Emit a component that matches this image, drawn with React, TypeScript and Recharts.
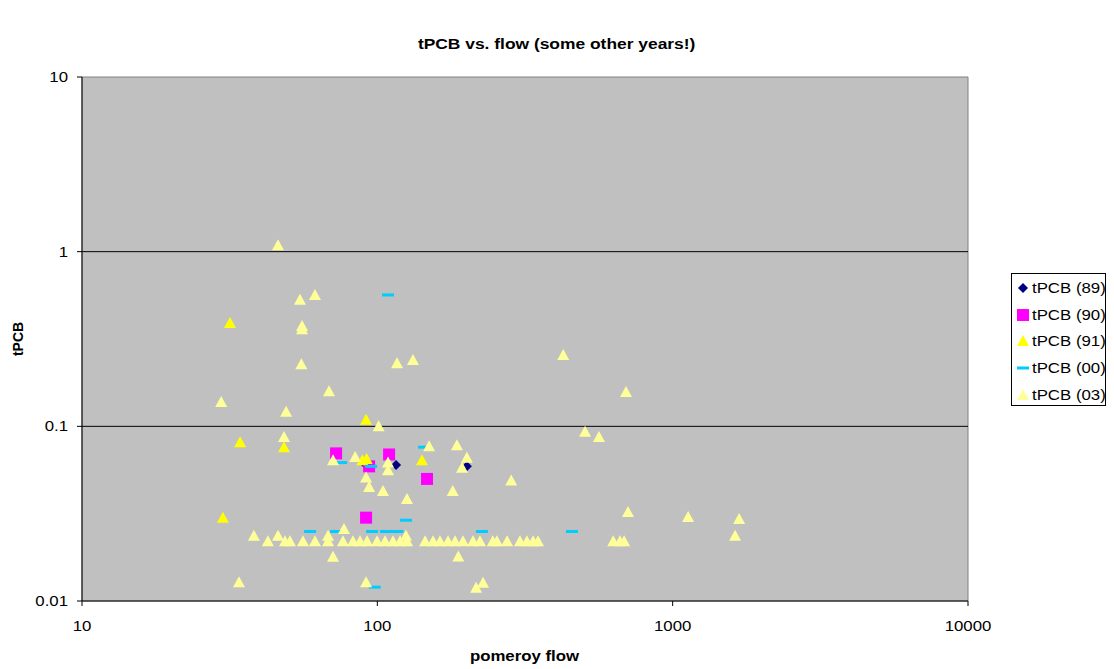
import {
  ScatterChart,
  Scatter,
  XAxis,
  YAxis,
  CartesianGrid,
  ReferenceArea,
  ReferenceLine,
} from "recharts";

// [pomeroy flow, tPCB] pairs per sampling year
const year89: [number, number][] = [
  [91.6, 0.06],
  [115.7, 0.06],
  [201, 0.059],
];

const year90: [number, number][] = [
  [72.5, 0.07],
  [93.8, 0.059],
  [109.6, 0.069],
  [147.3, 0.05],
  [91.6, 0.03],
];

const year91: [number, number][] = [
  [31.7, 0.39],
  [34.3, 0.081],
  [30.0, 0.03],
  [48.3, 0.076],
  [91.6, 0.109],
  [89.0, 0.064],
  [92.0, 0.065],
  [141.6, 0.064],
];

const year00: [number, number][] = [
  [108.7, 0.565],
  [144, 0.076],
  [75.4, 0.062],
  [95.3, 0.059],
  [125, 0.029],
  [59.2, 0.025],
  [72.5, 0.025],
  [96, 0.025],
  [107, 0.025],
  [117, 0.025],
  [226, 0.025],
  [456, 0.025],
  [98, 0.012],
];

const year03: [number, number][] = [
  [46.1, 1.09],
  [54.7, 0.53],
  [61.5, 0.565],
  [55.6, 0.375],
  [55.6, 0.36],
  [55.3, 0.227],
  [29.6, 0.138],
  [68.6, 0.159],
  [49.1, 0.121],
  [48.3, 0.087],
  [116.6, 0.23],
  [132, 0.24],
  [101, 0.1],
  [426, 0.256],
  [695, 0.157],
  [505, 0.093],
  [563, 0.087],
  [284, 0.049],
  [706, 0.0323],
  [1128, 0.0303],
  [1679, 0.0295],
  [1627, 0.0236],
  [70.8, 0.064],
  [84.1, 0.0667],
  [108.7, 0.062],
  [108.7, 0.056],
  [91.6, 0.051],
  [93.8, 0.045],
  [104.5, 0.0426],
  [126, 0.0384],
  [149.7, 0.077],
  [186, 0.078],
  [201, 0.066],
  [193.6, 0.058],
  [180, 0.0426],
  [34, 0.0128],
  [91.6, 0.0128],
  [216, 0.0119],
  [228, 0.0127],
  [70.8, 0.0179],
  [188, 0.018],
  [38.2, 0.0236],
  [46.1, 0.0236],
  [68.1, 0.0236],
  [77.1, 0.0258],
  [125, 0.0236],
  // low run along the detection limit
  [42.6, 0.022],
  [48.7, 0.022],
  [50.6, 0.022],
  [56.0, 0.022],
  [61.5, 0.022],
  [68.1, 0.022],
  [76.5, 0.022],
  [82.7, 0.022],
  [87.4, 0.022],
  [92.3, 0.022],
  [99.8, 0.022],
  [106.2, 0.022],
  [113.0, 0.022],
  [119.4, 0.022],
  [126.1, 0.022],
  [145.1, 0.022],
  [154.4, 0.022],
  [163.0, 0.022],
  [173.5, 0.022],
  [183.3, 0.022],
  [195.0, 0.022],
  [210.9, 0.022],
  [222.6, 0.022],
  [246, 0.022],
  [254, 0.022],
  [275, 0.022],
  [304, 0.022],
  [321, 0.022],
  [337, 0.022],
  [350, 0.022],
  [629, 0.022],
  [663, 0.022],
  [685, 0.022],
];

const xTicks = [10, 100, 1000, 10000];
const yTicks = [0.01, 0.1, 1, 10];
const gridValues = [0.1, 1];

const toRows = (pts: [number, number][]) =>
  pts.map(([flow, tpcb]) => ({ flow, tpcb }));

const FONT = "'Liberation Sans', Arial, sans-serif";
const STRETCH = 1.2; // text is drawn a little wide, like the old chart export

type ShapeProps = { cx?: number; cy?: number };

const Diamond = ({ cx = 0, cy = 0 }: ShapeProps) => (
  <polygon
    points={`${cx},${cy - 5} ${cx + 5},${cy} ${cx},${cy + 5} ${cx - 5},${cy}`}
    fill="#000080"
  />
);

const Square = ({ cx = 0, cy = 0 }: ShapeProps) => (
  <rect x={cx - 6} y={cy - 6} width={12} height={12} fill="#FF00FF" />
);

const triangle = (color: string) => ({ cx = 0, cy = 0 }: ShapeProps) => (
  <polygon
    points={`${cx},${cy - 6} ${cx + 6},${cy + 5} ${cx - 6},${cy + 5}`}
    fill={color}
  />
);

const Dash = ({ cx = 0, cy = 0 }: ShapeProps) => (
  <rect x={cx - 6} y={cy - 1.5} width={12} height={3} fill="#00CCFF" />
);

const series = [
  { name: "tPCB (89)", data: year89, shape: Diamond },
  { name: "tPCB (90)", data: year90, shape: Square },
  { name: "tPCB (91)", data: year91, shape: triangle("#FFFF00") },
  { name: "tPCB (00)", data: year00, shape: Dash },
  { name: "tPCB (03)", data: year03, shape: triangle("#FFFF99") },
];

type TickProps = {
  x?: number;
  y?: number;
  payload?: { value: number };
};

const XTick = ({ x = 0, y = 0, payload }: TickProps) => (
  <text
    transform={`translate(${x},${y}) scale(${STRETCH},1)`}
    textAnchor="middle"
    dy="0.71em"
    fill="#000"
    fontSize={14}
    fontFamily={FONT}
  >
    {payload?.value}
  </text>
);

const YTick = ({ x = 0, y = 0, payload }: TickProps) => (
  <text
    transform={`translate(${x},${y}) scale(${STRETCH},1)`}
    textAnchor="end"
    dy="0.355em"
    fill="#000"
    fontSize={14}
    fontFamily={FONT}
  >
    {payload?.value}
  </text>
);

const wide = (origin: string): React.CSSProperties => ({
  display: "inline-block",
  transform: `scaleX(${STRETCH})`,
  transformOrigin: origin,
});

const LegendBox = () => (
  <div
    style={{
      position: "absolute",
      left: 1011,
      top: 273,
      width: 95,
      height: 133,
      border: "1px solid #000",
      background: "#fff",
      fontFamily: FONT,
      fontSize: 14,
      color: "#000",
      paddingTop: 1,
      boxSizing: "border-box",
    }}
  >
    {series.map((s) => {
      const Icon = s.shape;
      return (
        <div
          key={s.name}
          style={{ display: "flex", alignItems: "center", height: 26.6 }}
        >
          <svg width={20} height={14}>
            <Icon cx={11} cy={7} />
          </svg>
          <span style={wide("left center")}>{s.name}</span>
        </div>
      );
    })}
  </div>
);

const bold: React.CSSProperties = {
  position: "absolute",
  fontFamily: FONT,
  fontWeight: "bold",
  fontSize: 14,
  color: "#000",
  whiteSpace: "nowrap",
};

export default function App() {
  return (
    <div
      style={{
        position: "absolute",
        left: 0,
        top: 0,
        width: 1114,
        height: 669,
        background: "#fff",
      }}
    >
      <ScatterChart
        width={1114}
        height={669}
        margin={{ top: 77, right: 146, bottom: 38, left: 22 }}
      >
        <CartesianGrid
          horizontal={false}
          vertical={false}
          fill="#C0C0C0"
          fillOpacity={1}
        />
        {gridValues.map((v) => (
          <ReferenceLine key={v} y={v} stroke="#000" strokeWidth={1} />
        ))}
        <ReferenceArea
          x1={10}
          x2={10000}
          y1={0.01}
          y2={10}
          fill="none"
          stroke="#808080"
          strokeWidth={1}
        />
        <XAxis
          type="number"
          dataKey="flow"
          scale="log"
          domain={[10, 10000]}
          ticks={xTicks}
          height={30}
          stroke="#000"
          tickSize={5}
          tickMargin={15}
          tick={<XTick />}
        />
        <YAxis
          type="number"
          dataKey="tpcb"
          scale="log"
          domain={[0.01, 10]}
          ticks={yTicks}
          width={60}
          stroke="#000"
          tickSize={5}
          tickMargin={9}
          tick={<YTick />}
        />
        {series.map((s) => (
          <Scatter
            key={s.name}
            name={s.name}
            data={toRows(s.data)}
            shape={s.shape}
            isAnimationActive={false}
          />
        ))}
      </ScatterChart>

      <div style={{ ...bold, top: 36, left: 0, width: 1114, textAlign: "center", fontSize: 14.5 }}>
        <span style={wide("center")}>tPCB vs. flow (some other years!)</span>
      </div>
      <div style={{ ...bold, top: 648, left: 325, width: 400, textAlign: "center" }}>
        <span style={wide("center")}>pomeroy flow</span>
      </div>
      <div
        style={{
          ...bold,
          left: 18,
          top: 339,
          transform: "translate(-50%, -50%) rotate(-90deg)",
        }}
      >
        tPCB
      </div>
      <LegendBox />
    </div>
  );
}
